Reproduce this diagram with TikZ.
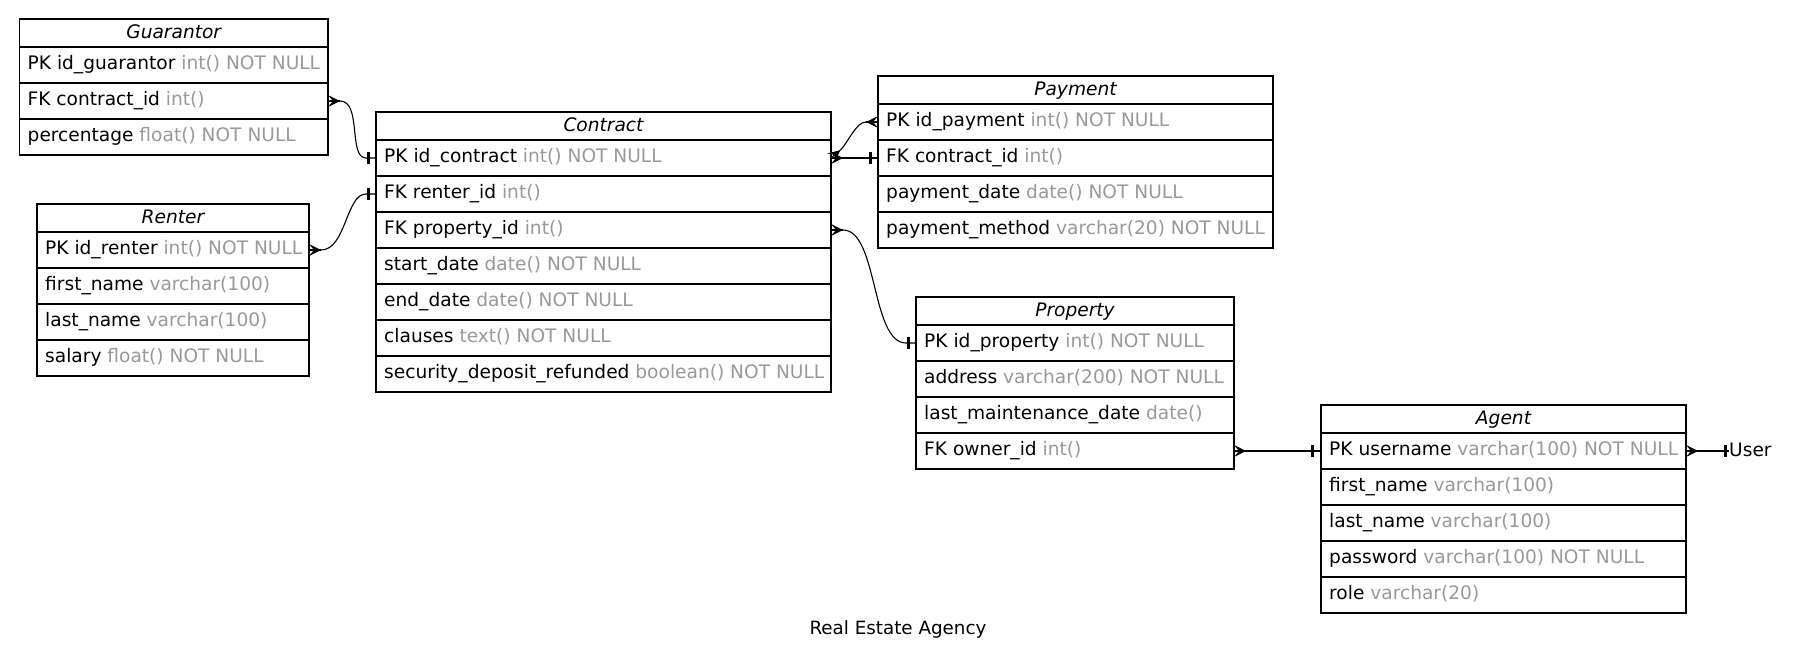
\documentclass[tikz,border=0pt]{standalone}
\usepackage{fontspec}
\setmainfont{DejaVu Sans}
\usetikzlibrary{calc}
\definecolor{typegray}{HTML}{999999}
\newcommand{\ty}[1]{\textcolor{typegray}{#1}}
\tikzset{
  erdbox/.style={draw, line width=1.1pt, inner sep=0pt, outer sep=0pt, anchor=north west, minimum height=36pt},
  erdheadbox/.style={erdbox, minimum height=28pt},
  rowtext/.style={anchor=base west, inner sep=0pt, font=\fontsize{18.6pt}{22pt}\selectfont},
  titletext/.style={anchor=base, inner sep=0pt, font=\fontsize{18.3pt}{22pt}\selectfont},
  headtext/.style={anchor=base, inner sep=0pt, font=\fontsize{18.6pt}{22pt}\selectfont\itshape},
  conn/.style={line width=1.1pt},
  teebar/.style={line width=3pt},
  crowfoot/.pic={\fill (0,-6) -- (12,0) -- (0,6) -- (5,0) -- cycle; \draw[line width=1.1pt] (0,0) -- (12,0);}
}
\newcommand{\erdhead}[5]{%
  \node[erdheadbox, minimum width=#4pt] (#1) at (#2,#3) {};
  \node[headtext] (#1-t) at ([yshift=-19pt]#1.north) {#5};}
\newcommand{\erdrow}[5]{%
  \node[erdbox, minimum width=#4pt] (#1) at (#2,#3) {};
  \node[rowtext] (#1-t) at ([xshift=8pt,yshift=-22pt]#1.north west) {#5};}
\newcommand{\teeat}[2]{\draw[teebar] ($(#1)+(#2,-6)$) -- ($(#1)+(#2,6)$);}
\begin{document}
\begin{tikzpicture}[x=1pt,y=-1pt]
\fill[white] (0,0) rectangle (1797,664);
\useasboundingbox (0,0) rectangle (1797,664);
% Guarantor
\erdhead{g0}{19.5}{19}{308.5}{Guarantor}
\erdrow{g1}{19.5}{47}{308.5}{PK id\_guarantor \ty{int() NOT NULL}}
\erdrow{g2}{19.5}{83}{308.5}{FK contract\_id \ty{int()}}
\erdrow{g3}{19.5}{119}{308.5}{percentage \ty{float() NOT NULL}}
% Renter
\erdhead{r0}{37}{204}{272}{Renter}
\erdrow{r1}{37}{232}{272}{PK id\_renter \ty{int() NOT NULL}}
\erdrow{r2}{37}{268}{272}{first\_name \ty{varchar(100)}}
\erdrow{r3}{37}{304}{272}{last\_name \ty{varchar(100)}}
\erdrow{r4}{37}{340}{272}{salary \ty{float() NOT NULL}}
% Contract
\erdhead{c0}{376}{112}{455}{Contract}
\erdrow{c1}{376}{140}{455}{PK id\_contract \ty{int() NOT NULL}}
\erdrow{c2}{376}{176}{455}{FK renter\_id \ty{int()}}
\erdrow{c3}{376}{212}{455}{FK property\_id \ty{int()}}
\erdrow{c4}{376}{248}{455}{start\_date \ty{date() NOT NULL}}
\erdrow{c5}{376}{284}{455}{end\_date \ty{date() NOT NULL}}
\erdrow{c6}{376}{320}{455}{clauses \ty{text() NOT NULL}}
\erdrow{c7}{376}{356}{455}{security\_deposit\_refunded \ty{boolean() NOT NULL}}
% Payment
\erdhead{p0}{878}{76}{395}{Payment}
\erdrow{p1}{878}{104}{395}{PK id\_payment \ty{int() NOT NULL}}
\erdrow{p2}{878}{140}{395}{FK contract\_id \ty{int()}}
\erdrow{p3}{878}{176}{395}{payment\_date \ty{date() NOT NULL}}
\erdrow{p4}{878}{212}{395}{payment\_method \ty{varchar(20) NOT NULL}}
% Property
\erdhead{q0}{916}{297}{318}{Property}
\erdrow{q1}{916}{325}{318}{PK id\_property \ty{int() NOT NULL}}
\erdrow{q2}{916}{361}{318}{address \ty{varchar(200) NOT NULL}}
\erdrow{q3}{916}{397}{318}{last\_maintenance\_date \ty{date()}}
\erdrow{q4}{916}{433}{318}{FK owner\_id \ty{int()}}
% Agent
\erdhead{a0}{1321}{405}{365}{Agent}
\erdrow{a1}{1321}{433}{365}{PK username \ty{varchar(100) NOT NULL}}
\erdrow{a2}{1321}{469}{365}{first\_name \ty{varchar(100)}}
\erdrow{a3}{1321}{505}{365}{last\_name \ty{varchar(100)}}
\erdrow{a4}{1321}{541}{365}{password \ty{varchar(100) NOT NULL}}
\erdrow{a5}{1321}{577}{365}{role \ty{varchar(20)}}
% User and title
\node[rowtext] (user) at (1729,456) {User};
\node[titletext] (title) at (898,634) {Real Estate Agency};
% Guarantor -> Contract
\pic at (g2.east) {crowfoot};
\draw[conn] ($(g2.east)+(12,0)$) .. controls +(22,0) and +(-18,0) .. ($(c1.west)+(-10,0)$) -- (c1.west);
\teeat{c1.west}{-8}
% Renter -> Contract
\pic at (r1.east) {crowfoot};
\draw[conn] ($(r1.east)+(12,0)$) .. controls +(25,0) and +(-20,0) .. ($(c2.west)+(-10,0)$) -- (c2.west);
\teeat{c2.west}{-8}
% Contract -> Payment contract_id
\pic at (c1.east) {crowfoot};
\draw[conn] ($(c1.east)+(12,0)$) -- (p2.west);
\teeat{p2.west}{-8}
% Contract -> Payment id_payment
\pic[rotate=40] at (c1.east) {crowfoot};
\pic[rotate=180] at (p1.west) {crowfoot};
\draw[conn] ($(c1.east)+(9.2,-7.7)$) .. controls +(8,-8) and +(-10,0) .. ($(p1.west)+(-12,0)$);
% Contract -> Property
\pic at (c3.east) {crowfoot};
\draw[conn] ($(c3.east)+(12,0)$) .. controls +(35,0) and +(-35,0) .. ($(q1.west)+(-10,0)$) -- (q1.west);
\teeat{q1.west}{-8}
% Property -> Agent
\pic at (q4.east) {crowfoot};
\draw[conn] ($(q4.east)+(12,0)$) -- (a1.west);
\teeat{a1.west}{-9}
% Agent -> User
\pic at (a1.east) {crowfoot};
\draw[conn] ($(a1.east)+(12,0)$) -- (a1.east -| user.west);
\teeat{a1.east -| user.west}{-4}
\end{tikzpicture}
\end{document}
